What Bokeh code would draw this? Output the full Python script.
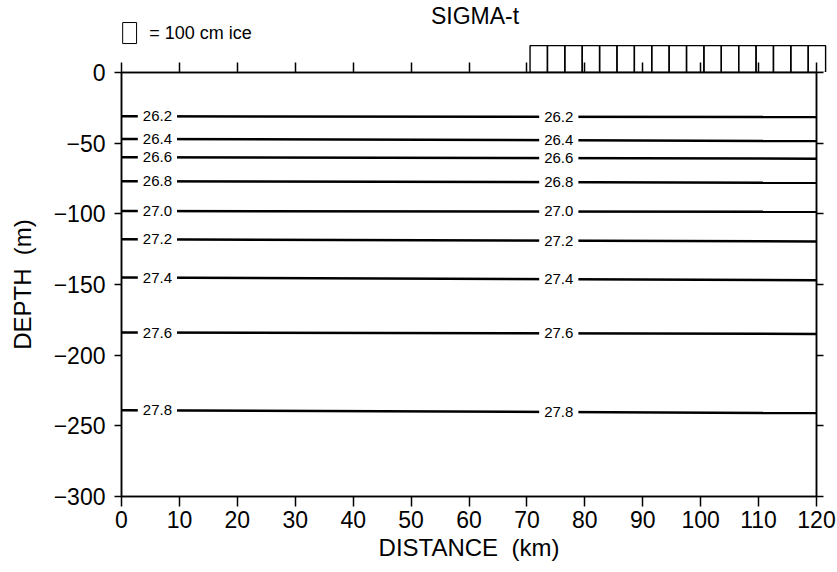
import numpy as np
from bokeh.plotting import figure
from bokeh.models import Range1d, LinearAxis, FixedTicker, Label, ColumnDataSource
from bokeh.layouts import column
from bokeh.embed import file_html
from bokeh.resources import INLINE
from bokeh.core.properties import value

# ---------------- data ----------------
sigma_levels = ["26.2", "26.4", "26.6", "26.8", "27.0", "27.2", "27.4", "27.6", "27.8"]
depth_at_start_m = [31, 47, 60, 77, 98, 118, 145, 184, 239]       # at 0 km
depth_at_end_m = [31.5, 48.5, 61, 78, 98.5, 119.5, 147, 185, 241]  # at 120 km
section_ends_km = [0, 120]
label_positions_km = [6.2, 75.5]

ice_stations_km = [72, 75, 78, 81, 84, 87, 90, 93, 96, 99, 102, 105, 108, 111, 114, 117, 120]
ice_thickness_cm = [128, 128, 128, 128, 128, 128, 128, 128, 128, 128, 128, 128, 128, 128, 128, 128, 128]
legend_ice_cm = 100

x_ticks = [0, 10, 20, 30, 40, 50, 60, 70, 80, 90, 100, 110, 120]
x_tick_labels = ["0", "10", "20", "30", "40", "50", "60", "70", "80", "90", "100", "110", "120"]
y_ticks = [0, -50, -100, -150, -200, -250, -300]
y_tick_labels = ["0", "\u221250", "\u2212100", "\u2212150", "\u2212200", "\u2212250", "\u2212300"]

FONT = "Liberation Sans"
STATION_WIDTH_KM = 3.0
TOP_PAD = 14

# ---------------- main section ----------------
p = figure(frame_width=695, frame_height=424,
           x_range=Range1d(0, 120), y_range=Range1d(-300, 0),
           output_backend="svg", toolbar_location=None,
           min_border_left=121, min_border_right=20,
           min_border_top=TOP_PAD, min_border_bottom=0,
           margin=(-TOP_PAD, 0, 0, 0),
           background_fill_color="white", border_fill_color=None)
p.outline_line_color = "black"
p.outline_line_width = 1.5
p.xgrid.grid_line_color = None
p.ygrid.grid_line_color = None


def hidden_label_axis(ax, tick_len):
    ax.major_tick_out = tick_len
    ax.major_tick_in = 0
    ax.minor_tick_line_color = None
    ax.major_tick_line_width = 1.5
    ax.axis_line_width = 1.5
    ax.major_label_text_font_size = "1px"
    ax.major_label_text_color = None
    ax.major_label_standoff = 0


xa = p.xaxis[0]
xa.ticker = FixedTicker(ticks=x_ticks)
xa.major_label_overrides = {t: s for t, s in zip(x_ticks, x_tick_labels)}
xa.major_tick_out = 10
xa.major_tick_in = 0
xa.minor_tick_line_color = None
xa.major_tick_line_width = 1.5
xa.axis_line_width = 1.5
xa.major_label_text_font = FONT
xa.major_label_text_font_size = "23px"
xa.major_label_text_color = "black"
xa.major_label_standoff = 4
xa.axis_label = "DISTANCE\u00a0\u00a0(km)"
xa.axis_label_text_font = FONT
xa.axis_label_text_font_size = "24px"
xa.axis_label_text_font_style = "normal"
xa.axis_label_text_color = "black"
xa.axis_label_standoff = 3

ya = p.yaxis[0]
ya.ticker = FixedTicker(ticks=y_ticks)
ya.major_label_overrides = {t: s for t, s in zip(y_ticks, y_tick_labels)}
ya.major_tick_out = 7
ya.major_tick_in = 0
ya.minor_tick_line_color = None
ya.major_tick_line_width = 1.5
ya.axis_line_width = 1.5
ya.major_label_text_font = FONT
ya.major_label_text_font_size = "23px"
ya.major_label_text_color = "black"
ya.major_label_standoff = 9
ya.axis_label = "DEPTH\u00a0\u00a0(m)"
ya.axis_label_text_font = FONT
ya.axis_label_text_font_size = "24px"
ya.axis_label_text_font_style = "normal"
ya.axis_label_text_color = "black"
ya.axis_label_standoff = 15

ra = LinearAxis(ticker=FixedTicker(ticks=y_ticks))
hidden_label_axis(ra, 7)
p.add_layout(ra, "right")

ta = LinearAxis(ticker=FixedTicker(ticks=x_ticks))
hidden_label_axis(ta, 10)
p.add_layout(ta, "above")

# contour lines
xs = [list(section_ends_km) for _ in sigma_levels]
ys = [[-a, -b] for a, b in zip(depth_at_start_m, depth_at_end_m)]
p.multi_line(xs=xs, ys=ys, line_color="black", line_width=2.5)

# contour labels
lx, ly, lt = [], [], []
for lev, a, b in zip(sigma_levels, depth_at_start_m, depth_at_end_m):
    for xl in label_positions_km:
        lx.append(xl)
        ly.append(-float(np.interp(xl, section_ends_km, [a, b])))
        lt.append(lev)
lab_src = ColumnDataSource(dict(x=lx, y=ly, text=lt))
p.text(x="x", y="y", text="text", source=lab_src,
       text_font=value(FONT), text_font_size="15px", text_color="black",
       text_align="center", text_baseline="middle",
       background_fill_color="white", padding=5)

# ---------------- ice strip ----------------
ice = figure(frame_width=707, frame_height=72,
             x_range=Range1d(0, 122), y_range=Range1d(0, 343),
             output_backend="svg", toolbar_location=None,
             min_border_left=121, min_border_right=8,
             min_border_top=0, min_border_bottom=0,
             x_axis_location=None, y_axis_location=None,
             background_fill_color="white", border_fill_color="white")
ice.outline_line_color = None
ice.xgrid.grid_line_color = None
ice.ygrid.grid_line_color = None

half = STATION_WIDTH_KM / 2
ice_src = ColumnDataSource(dict(
    left=[s - half for s in ice_stations_km],
    right=[s + half for s in ice_stations_km],
    bottom=[0] * len(ice_stations_km),
    top=ice_thickness_cm))
ice.quad(left="left", right="right", bottom="bottom", top="top", source=ice_src,
         fill_alpha=0, line_color="black", line_width=1.4)

# legend key: one box = 100 cm ice
LEG_X0, LEG_X1, LEG_BASE = 0.2, 2.6, 138
ice.quad(left=[LEG_X0], right=[LEG_X1], bottom=[LEG_BASE], top=[LEG_BASE + legend_ice_cm],
         fill_alpha=0, line_color="black", line_width=1)
ice.add_layout(Label(x=4.8, y=LEG_BASE + legend_ice_cm / 2, text="=  100 cm ice",
                     text_font=FONT, text_font_size="18px", text_color="black",
                     text_baseline="middle"))
ice.add_layout(Label(x=61, y=57, y_units="screen", text="SIGMA-t",
                     text_font=FONT, text_font_size="23px", text_color="black",
                     text_align="center", text_baseline="middle"))

layout = column(ice, p, spacing=0)
open("out.html", "w").write(file_html(layout, INLINE))
